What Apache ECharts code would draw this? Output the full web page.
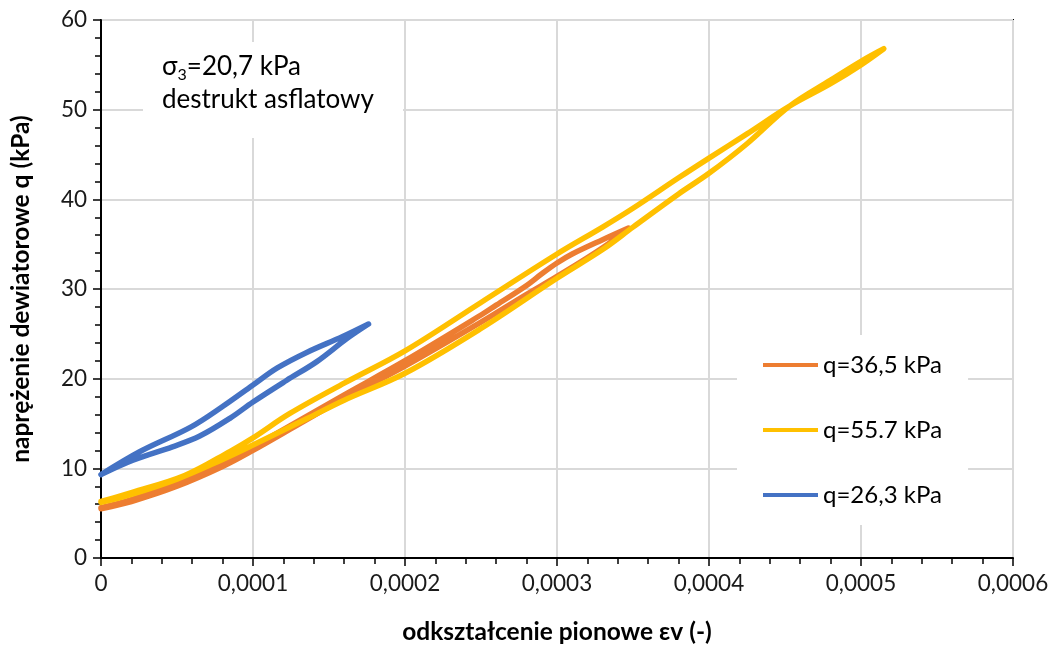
<!DOCTYPE html>
<html>
<head>
<meta charset="utf-8">
<title>Pętle histerezy – destrukt asfaltowy</title>
<script src="https://cdn.jsdelivr.net/npm/echarts@6/dist/echarts.min.js"></script>
<style>
  html, body { margin: 0; padding: 0; background: #fff; }
  #chart { width: 1052px; height: 646px; }
</style>
</head>
<body>
<div id="chart"></div>
<script>
// Axis tick labels (Polish decimal comma)
const xTickLabels = ['0', '0,0001', '0,0002', '0,0003', '0,0004', '0,0005', '0,0006'];
const yTickLabels = ['0', '10', '20', '30', '40', '50', '60'];

// Series names
const seriesNames = ['q=36,5 kPa', 'q=55.7 kPa', 'q=26,3 kPa'];

// q = 36,5 kPa loop: loading branch then unloading branch
const strainQ365 = [0, 0.00002, 0.00005, 0.00008, 0.0001, 0.00013, 0.00016, 0.0002, 0.00025, 0.00028, 0.0003, 0.00033, 0.000347,
                    0.00033, 0.00031, 0.0003, 0.00029, 0.00028, 0.00026, 0.00025, 0.0002, 0.00016, 0.00013, 0.0001, 0.00008, 0.00005, 0.00002, 0];
const stressQ365 = [5.5, 6.3, 8.0, 10.2, 12.0, 14.9, 17.8, 21.4, 26.3, 29.4, 31.4, 34.6, 36.8,
                    35.5, 33.9, 32.9, 31.7, 30.4, 28.2, 27.1, 22.0, 18.2, 15.3, 12.4, 10.5, 8.3, 6.5, 5.6];

// q = 55,7 kPa loop
const strainQ557 = [0, 0.00002, 0.00005, 0.00008, 0.0001, 0.000135, 0.00016, 0.0002, 0.00025, 0.0003, 0.00033, 0.00035, 0.00038, 0.0004, 0.000425, 0.000453, 0.00048, 0.0005, 0.000515,
                    0.0005, 0.00048, 0.000453, 0.000425, 0.0004, 0.00038, 0.00035, 0.00033, 0.0003, 0.00025, 0.0002, 0.00016, 0.000124, 0.0001, 0.000085, 0.000055, 0.00002, 0];
const stressQ557 = [6.2, 7.1, 8.8, 11.0, 12.6, 15.5, 17.6, 20.6, 25.6, 31.2, 34.4, 36.9, 40.6, 42.9, 46.2, 50.4, 53.3, 55.4, 56.8,
                    55.0, 52.9, 50.4, 47.3, 44.6, 42.4, 39.0, 36.9, 33.9, 28.5, 23.1, 19.5, 16.1, 13.4, 11.9, 9.2, 7.3, 6.3];

// q = 26,3 kPa loop
const strainQ263 = [0, 0.000021, 0.000047, 0.000065, 0.000085, 0.0001, 0.000122, 0.000142, 0.000162, 0.000176,
                    0.000159, 0.000135, 0.000116, 0.0001, 0.00008, 0.000059, 0.000026, 0];
const stressQ263 = [9.3, 10.9, 12.4, 13.6, 15.6, 17.4, 19.8, 21.9, 24.5, 26.1,
                    24.7, 22.9, 21.2, 19.3, 16.9, 14.6, 11.9, 9.3];

const colors = ['#ED7D31', '#FFC000', '#4472C4'];

function pairs(xs, ys) {
  return xs.map((x, i) => [x, ys[i]]);
}

const fontFamily = 'Lato, "Open Sans", sans-serif';
const chart = echarts.init(document.getElementById('chart'), null, { renderer: 'canvas' });

const loopSeries = [
  [strainQ365, stressQ365],
  [strainQ557, stressQ557],
  [strainQ263, stressQ263]
].map((d, i) => ({
  name: seriesNames[i],
  type: 'line',
  data: pairs(d[0], d[1]),
  showSymbol: false,
  symbol: 'none',
  smooth: 0.35,
  color: colors[i],
  lineStyle: { color: colors[i], width: 5.5, cap: 'round', join: 'round' },
  emphasis: { disabled: true },
  animation: false,
  z: 2 + i
}));

chart.setOption({
  animation: false,
  backgroundColor: '#fff',
  grid: {
    left: 101, right: 39, top: 20, bottom: 88,
    outerBoundsMode: 'none',
    containLabel: false,
    show: true, borderColor: '#000', borderWidth: 2, backgroundColor: 'transparent'
  },
  xAxis: {
    type: 'value',
    min: 0, max: 0.0006, interval: 0.0001,
    name: 'odkształcenie pionowe εv (-)',
    nameLocation: 'middle',
    nameGap: 62,
    nameTextStyle: { fontFamily, fontSize: 24.5, fontWeight: 'bold', color: '#000' },
    axisLine: { show: true, lineStyle: { color: '#000', width: 2 } },
    axisTick: { show: true, length: 8, lineStyle: { color: '#000', width: 1.5 } },
    minorTick: { show: true, splitNumber: 5, length: 6, lineStyle: { color: '#000', width: 1.5 } },
    axisLabel: {
      fontFamily, fontSize: 22.5, color: '#1a1a1a', margin: 14,
      formatter: v => xTickLabels[Math.round(v / 0.0001)]
    },
    splitLine: { show: true, lineStyle: { color: '#d9d9d9', width: 2 } }
  },
  yAxis: {
    type: 'value',
    min: 0, max: 60, interval: 10,
    name: 'naprężenie dewiatorowe q (kPa)',
    nameLocation: 'middle',
    nameGap: 67,
    nameTextStyle: { fontFamily, fontSize: 24.5, fontWeight: 'bold', color: '#000' },
    axisLine: { show: true, lineStyle: { color: '#000', width: 2 } },
    axisTick: { show: true, length: 8, lineStyle: { color: '#000', width: 1.5 } },
    minorTick: { show: true, splitNumber: 5, length: 6, lineStyle: { color: '#000', width: 1.5 } },
    axisLabel: {
      fontFamily, fontSize: 22.5, color: '#1a1a1a', margin: 14,
      formatter: v => yTickLabels[Math.round(v / 10)]
    },
    splitLine: { show: true, lineStyle: { color: '#d9d9d9', width: 2 } }
  },
  legend: {
    orient: 'vertical',
    left: 737, top: 335,
    backgroundColor: '#fff',
    padding: [17, 26, 17, 26],
    itemWidth: 55, itemHeight: 4,
    itemGap: 39,
    icon: 'rect',
    data: seriesNames,
    textStyle: { fontFamily, fontSize: 24, color: '#000', lineHeight: 26 },
    selectedMode: false
  },
  graphic: [
    { type: 'rect', left: 143, top: 42, shape: { width: 260, height: 96 }, style: { fill: '#fff' }, z: 10 },
    {
      type: 'text', left: 162, top: 54, z: 11,
      style: {
        text: '{n|σ}{s|3}{n|=20,7 kPa}',
        rich: {
          n: { fontFamily, fontSize: 26, fill: '#000', lineHeight: 32 },
          s: { fontFamily, fontSize: 16, fill: '#000', lineHeight: 32, verticalAlign: 'bottom', padding: [11, 0, 0, 0] }
        }
      }
    },
    {
      type: 'text', left: 162, top: 87, z: 11,
      style: { text: 'destrukt asflatowy', fontFamily, fontSize: 26, fill: '#000' }
    }
  ],
  series: loopSeries
});
</script>
</body>
</html>
